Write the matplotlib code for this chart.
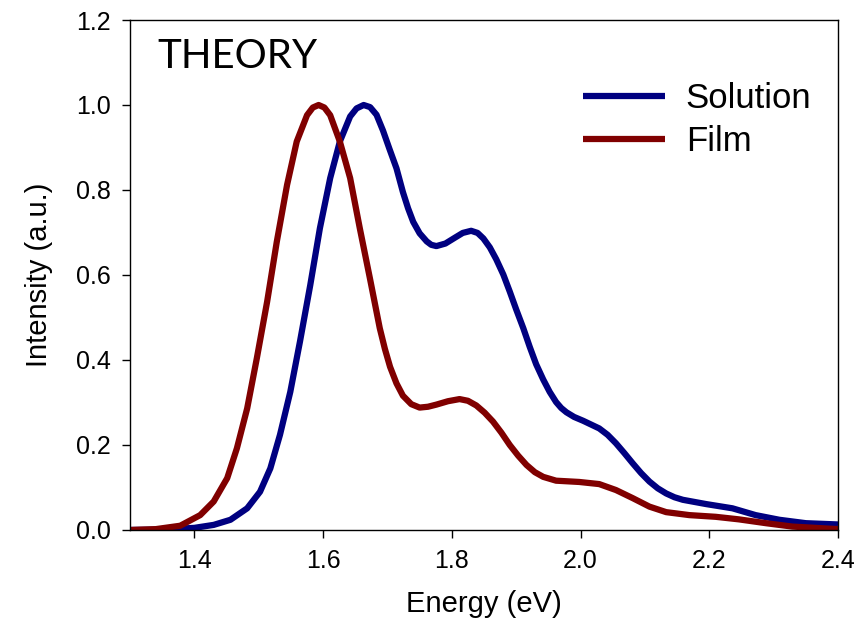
import matplotlib
matplotlib.use("Agg")
import matplotlib.pyplot as plt
from matplotlib.ticker import FormatStrFormatter, MultipleLocator

# values
energy_sol = [1.30, 1.35, 1.40, 1.430, 1.456, 1.482, 1.502, 1.518, 1.533, 1.549,
              1.564, 1.580, 1.595, 1.611, 1.626, 1.642, 1.652, 1.663, 1.673, 1.683,
              1.693, 1.703, 1.714, 1.724, 1.732, 1.740, 1.750, 1.761, 1.768, 1.776,
              1.790, 1.805, 1.817, 1.830, 1.840, 1.849, 1.859, 1.869, 1.880, 1.890,
              1.900, 1.911, 1.921, 1.931, 1.942, 1.952, 1.962, 1.970, 1.978, 1.990,
              2.004, 2.029, 2.042, 2.055, 2.068, 2.081, 2.094, 2.107, 2.120, 2.133,
              2.146, 2.159, 2.195, 2.236, 2.272, 2.309, 2.350, 2.40]
int_sol = [0.000, 0.001, 0.005, 0.012, 0.024, 0.051, 0.090, 0.145, 0.224, 0.325,
           0.443, 0.576, 0.710, 0.828, 0.914, 0.973, 0.992, 1.000, 0.995, 0.977,
           0.940, 0.897, 0.851, 0.795, 0.757, 0.725, 0.698, 0.679, 0.671, 0.668,
           0.674, 0.688, 0.699, 0.704, 0.699, 0.686, 0.665, 0.637, 0.601, 0.561,
           0.519, 0.475, 0.431, 0.390, 0.354, 0.325, 0.301, 0.287, 0.277, 0.266,
           0.257, 0.239, 0.224, 0.204, 0.181, 0.157, 0.134, 0.114, 0.098, 0.086,
           0.077, 0.071, 0.061, 0.051, 0.035, 0.024, 0.016, 0.013]

energy_film = [1.30, 1.34, 1.378, 1.409, 1.430, 1.451, 1.466, 1.482, 1.497, 1.513,
               1.528, 1.544, 1.559, 1.575, 1.584, 1.593, 1.602, 1.611, 1.626, 1.642,
               1.657, 1.673, 1.688, 1.696, 1.704, 1.714, 1.724, 1.737, 1.750, 1.763,
               1.776, 1.794, 1.812, 1.825, 1.838, 1.851, 1.864, 1.877, 1.890, 1.903,
               1.916, 1.929, 1.942, 1.962, 1.998, 2.029, 2.055, 2.081, 2.107, 2.133,
               2.169, 2.210, 2.246, 2.288, 2.329, 2.40]
int_film = [0.000, 0.002, 0.010, 0.035, 0.067, 0.122, 0.192, 0.286, 0.404, 0.537,
            0.678, 0.812, 0.914, 0.976, 0.994, 1.000, 0.994, 0.976, 0.914, 0.828,
            0.710, 0.590, 0.475, 0.426, 0.384, 0.345, 0.316, 0.296, 0.288, 0.290,
            0.295, 0.303, 0.308, 0.304, 0.293, 0.276, 0.255, 0.229, 0.200, 0.175,
            0.153, 0.136, 0.125, 0.116, 0.113, 0.108, 0.094, 0.075, 0.055, 0.042,
            0.035, 0.031, 0.025, 0.016, 0.008, 0.002]

plt.rcParams['font.family'] = ['Liberation Sans', 'DejaVu Sans']

fig = plt.figure(figsize=(8.64, 6.37), dpi=100)
ax = fig.add_axes([0.1505, 0.168, 0.8194, 0.8006])

ax.plot(energy_sol, int_sol, color='#000080', lw=4.5, label='Solution',
        solid_capstyle='butt', solid_joinstyle='round')
ax.plot(energy_film, int_film, color='#800000', lw=4.5, label='Film',
        solid_capstyle='butt', solid_joinstyle='round')

ax.set_xlim(1.3, 2.4)
ax.set_ylim(0, 1.2)
ax.yaxis.set_major_locator(MultipleLocator(0.2))
ax.set_xticks([1.4, 1.6, 1.8, 2.0, 2.2, 2.4])
ax.xaxis.set_major_formatter(FormatStrFormatter('%.1f'))
ax.yaxis.set_major_formatter(FormatStrFormatter('%.1f'))
ax.tick_params(direction='out', length=6, width=1, labelsize=18, pad=8,
               top=False, right=False)
for s in ax.spines.values():
    s.set_linewidth(1)

ax.set_xlabel('Energy (eV)', fontsize=21, labelpad=12)
ax.set_ylabel('Intensity (a.u.)', fontsize=21, labelpad=16)

ax.text(1.343, 1.087, 'THEORY', fontsize=29, family='Lato', va='baseline')

leg = ax.legend(loc='upper right', bbox_to_anchor=(0.982, 0.905), frameon=False,
                fontsize=25, handlelength=2.35, handletextpad=0.6,
                labelspacing=0.28, borderaxespad=0)

fig.savefig('out.png', dpi=100)
